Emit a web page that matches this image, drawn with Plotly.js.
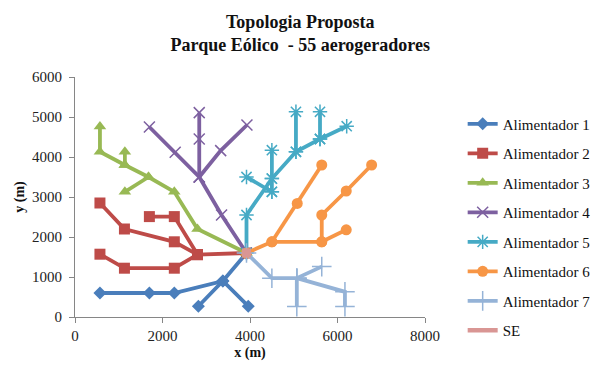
<!DOCTYPE html>
<html>
<head>
<meta charset="utf-8">
<script src="https://cdn.plot.ly/plotly-3.0.1.min.js"></script>
<style>
  html, body { margin: 0; padding: 0; background: #fff; }
  #chart { width: 597px; height: 371px; }
</style>
</head>
<body>
<div id="chart"></div>
<script>
// Turbine coordinates (m) per feeder; null breaks separate the branches of each feeder.
const seX = 3920, seY = 1600;

const al1X = [570, 1700, 2270, 3380, seX, null, 2820, 3380, 3960];
const al1Y = [600, 600, 600, 900, seY, null, 270, 900, 270];

const al2X = [570, 1130, 2270, 2800, seX, null, 1700, 2270, 2800, null, 570, 1130, 2270, 2800];
const al2Y = [2850, 2200, 1880, 1560, seY, null, 2510, 2510, 1560, null, 1570, 1220, 1220, 1560];

const al3X = [570, 570, 1140, 1680, 2270, 2800, seX, null, 1140, 1140, null, 1140, 1680];
const al3Y = [4760, 4130, 3800, 3500, 3130, 2200, seY, null, 4130, 3800, null, 3130, 3500];

const al4X = [1700, 2290, 2840, 3350, seX, null, 2840, 2840, 2840, null, 3930, 3330, 2840];
const al4Y = [4750, 4120, 3500, 2550, seY, null, 5110, 4450, 3500, null, 4800, 4160, 3500];

const al5X = [seX, 3920, 4500, 5050, 5600, 6210, null, 4500, 4500, 4500, null, 3920, 4500, null, 5050, 5050, null, 5600, 5600];
const al5Y = [seY, 2550, 3460, 4130, 4450, 4770, null, 3130, 3460, 4170, null, 3500, 3130, null, 4130, 5130, null, 4450, 5130];

const al6X = [seX, 4500, 5640, 5640, 6200, 6780, null, 5640, 6200, null, 4500, 5080, 5640];
const al6Y = [seY, 1880, 1880, 2550, 3150, 3800, null, 1880, 2180, null, 1880, 2840, 3800];

const al7X = [seX, 4500, 5070, 5640, null, 5070, 5070, null, 5070, 6170, 6170];
const al7Y = [seY, 970, 970, 1260, null, 970, 260, null, 970, 630, 260];

const feederNames = ['Alimentador 1', 'Alimentador 2', 'Alimentador 3', 'Alimentador 4',
                     'Alimentador 5', 'Alimentador 6', 'Alimentador 7', 'SE'];
const xTicks = [0, 2000, 4000, 6000, 8000];
const yTicks = [0, 1000, 2000, 3000, 4000, 5000, 6000];

const colors = ['#4A7EBB', '#BE4B48', '#98B954', '#7D60A0', '#46AAC5', '#F79646', '#95B3D7', '#D99694'];
const markers = [
  { symbol: 'diamond', size: 10 },
  { symbol: 'square', size: 11 },
  { symbol: 'triangle-up', size: 11 },
  { symbol: 'x-thin-open', size: 11, lw: 1.5 },
  { symbol: 'asterisk-open', size: 12, lw: 1.5 },
  { symbol: 'circle', size: 11 },
  { symbol: 'cross-thin-open', size: 14, lw: 1.5 }
];

const series = [[al1X, al1Y], [al2X, al2Y], [al3X, al3Y], [al4X, al4Y],
                [al5X, al5Y], [al6X, al6Y], [al7X, al7Y]];

const traces = series.map(([xs, ys], i) => ({
  type: 'scatter',
  mode: 'lines+markers',
  name: feederNames[i],
  legendgroup: 'g' + i,
  x: xs,
  y: ys,
  connectgaps: false,
  line: { color: colors[i], width: 3.8 },
  marker: {
    symbol: markers[i].symbol,
    size: markers[i].size,
    color: colors[i],
    line: { color: colors[i], width: markers[i].lw || 0 }
  }
}));

// Substation: the point itself, plus a line-only legend entry
traces.push({
  type: 'scatter',
  mode: 'markers',
  x: [seX],
  y: [seY],
  showlegend: false,
  marker: { symbol: 'square', size: 9, color: colors[7] }
});
traces.push({
  type: 'scatter',
  mode: 'lines',
  name: feederNames[7],
  legendgroup: 'g7',
  x: [seX],
  y: [seY],
  line: { color: colors[7], width: 4.5 }
});

const serif = '"Liberation Serif", "Times New Roman", serif';

const layout = {
  width: 597,
  height: 371,
  paper_bgcolor: '#fff',
  plot_bgcolor: '#fff',
  margin: { l: 75, r: 172, t: 77, b: 54 },
  title: {
    text: '<b>Topologia Proposta<br>Parque Eólico  - 55 aerogeradores</b>',
    font: { family: serif, size: 18, color: '#111' },
    x: 0.503,
    xanchor: 'center',
    xref: 'container',
    yref: 'container',
    y: 0.925,
    yanchor: 'middle'
  },
  xaxis: {
    range: [0, 8000],
    tickvals: xTicks,
    ticktext: xTicks.map(String),
    showgrid: false,
    zeroline: false,
    showline: true,
    linecolor: '#868686',
    linewidth: 1,
    ticks: 'outside',
    ticklen: 5,
    tickcolor: '#868686',
    tickfont: { family: serif, size: 15, color: '#222' },
    title: { text: '<b>x (m)</b>', font: { family: serif, size: 14, color: '#111' }, standoff: 4 }
  },
  yaxis: {
    range: [0, 6000],
    tickvals: yTicks,
    ticktext: yTicks.map(String),
    showgrid: false,
    zeroline: false,
    showline: true,
    linecolor: '#868686',
    linewidth: 1,
    ticks: 'outside',
    ticklen: 5,
    tickcolor: '#868686',
    ticklabelstandoff: 4,
    tickfont: { family: serif, size: 15, color: '#222' },
    title: { text: '<b>y (m)</b>', font: { family: serif, size: 14, color: '#111' }, standoff: 4 }
  },
  legend: {
    x: 0.775,
    xref: 'container',
    y: 0.71,
    yref: 'container',
    yanchor: 'top',
    xanchor: 'left',
    maxheight: 300,
    font: { family: serif, size: 15, color: '#111' },
    tracegroupgap: 7,
    bgcolor: 'rgba(0,0,0,0)'
  },
  showlegend: true
};

Plotly.newPlot('chart', traces, layout, { displayModeBar: false, staticPlot: true });
</script>
</body>
</html>
